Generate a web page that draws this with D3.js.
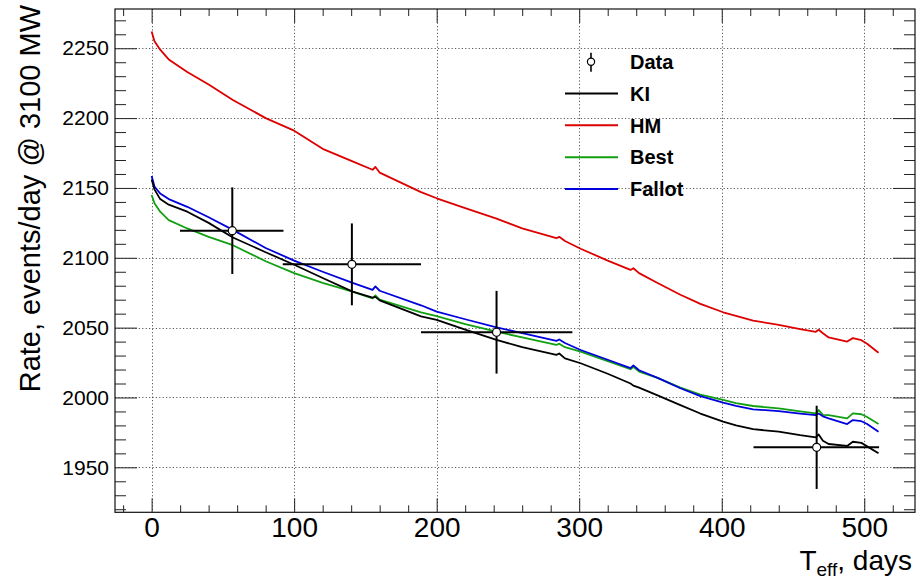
<!DOCTYPE html>
<html>
<head>
<meta charset="utf-8">
<script src="https://cdn.jsdelivr.net/npm/d3@7"></script>
<style>
  body { margin: 0; background: #fff; }
  svg { display: block; }
  text { font-family: "Liberation Sans", Arial, Helvetica, sans-serif; fill: #000; }
</style>
</head>
<body>
<svg id="chart" width="919" height="579"></svg>
<script>
// Effective time (days) at which the model curves are sampled
const days = [0, 2, 6, 12, 25, 40, 57, 80, 100, 120, 141, 155, 157, 160, 189, 200, 220, 242, 260,
  284, 286, 290, 301, 320, 336, 338, 342, 355, 371, 385, 401, 410, 422, 440, 455, 466, 468, 471,
  475, 488, 492, 498, 502, 510];

// Predicted rates, events/day @ 3100 MW
const rateKI = [2156, 2149, 2142, 2138, 2133, 2125, 2114.5, 2104, 2095, 2085.5, 2075.8, 2071.5, 2072, 2069.5,
  2058, 2055.5, 2048.5, 2041.2, 2036, 2030.5, 2031.5, 2028, 2024.5, 2017, 2010, 2008.5, 2007, 2001.5,
  1994.5, 1988.5, 1982.7, 1980, 1977.3, 1975.5, 1973, 1971.5, 1973.5, 1969, 1966.7, 1965.3, 1968.3,
  1967.5, 1965, 1960];
const rateHM = [2262, 2255, 2249, 2242, 2233, 2224, 2213, 2200, 2191, 2178, 2169, 2163, 2165, 2161,
  2147, 2142.6, 2135.5, 2128, 2121, 2114, 2115, 2112, 2106.5, 2098, 2091.3, 2092.5, 2089, 2082,
  2073.5, 2067, 2061, 2058.5, 2055, 2052, 2049, 2047, 2048.5, 2046, 2043, 2040, 2042.5, 2041,
  2038.5, 2032];
const rateBest = [2145, 2139, 2133, 2127, 2121, 2115, 2109, 2097.5, 2089, 2082, 2075.8, 2071, 2073, 2070,
  2061, 2058.3, 2052.5, 2047.1, 2043, 2037.6, 2038.5, 2036, 2032.8, 2026, 2020.2, 2022, 2018.5, 2014,
  2007, 2002, 1998.2, 1996, 1993.9, 1992.2, 1990, 1988.6, 1991, 1987.5, 1987.4, 1985, 1988.6,
  1988, 1986, 1981];
const rateFallot = [2158.5, 2151, 2146, 2142, 2136.5, 2129, 2120, 2107, 2098, 2090, 2082, 2077, 2079.5, 2076.4,
  2066, 2061.5, 2056, 2050.2, 2046, 2040.5, 2041.5, 2039, 2034, 2027, 2021, 2023, 2019.5, 2014,
  2006.6, 2001, 1996.3, 1994, 1991.5, 1990.3, 1988.5, 1987.4, 1988.5, 1986.5, 1985, 1981, 1983.8,
  1983, 1981, 1975.5];

// Measured rates with their bins and uncertainties
const dataDay = [56.6, 140.5, 242, 466.6];
const dataDayLo = [19.9, 92, 189, 422.3];
const dataDayHi = [92.5, 189, 295.2, 510.4];
const dataRate = [2119.4, 2095.3, 2046.7, 1964.3];
const dataErr = [31, 29.3, 29.6, 29.8];

// Axis ticks
const xTicks = [0, 100, 200, 300, 400, 500];
const yTicks = [1950, 2000, 2050, 2100, 2150, 2200, 2250];

// Legend entries
const legendLabels = ["Data", "KI", "HM", "Best", "Fallot"];

const svg = d3.select("#chart");
const frame = { left: 115, right: 915, top: 9, bottom: 512.3 };

const x = d3.scaleLinear().domain([-25.7, 535.6]).range([frame.left, frame.right]);
const y = d3.scaleLinear().domain([1917.8, 2278.1]).range([frame.bottom, frame.top]);

const xMinor = d3.range(-20, 536, 20).filter(v => v % 100 !== 0);
const yMinor = d3.range(1920, 2278, 10).filter(v => v % 50 !== 0);

// Dotted grid at the major ticks
const grid = svg.append("g").attr("stroke", "#000").attr("stroke-opacity", 0.65)
  .attr("stroke-width", 1).attr("stroke-dasharray", "1.2,2.2");
grid.selectAll("line.gx").data(xTicks).join("line")
  .attr("x1", d => Math.round(x(d)) + 0.5).attr("x2", d => Math.round(x(d)) + 0.5)
  .attr("y1", frame.top).attr("y2", frame.bottom);
grid.selectAll("line.gy").data(yTicks).join("line")
  .attr("y1", d => Math.round(y(d)) + 0.5).attr("y2", d => Math.round(y(d)) + 0.5)
  .attr("x1", frame.left).attr("x2", frame.right);

// Axes with inward ticks on all four sides
function styleAxis(g) {
  g.select(".domain").remove();
  g.selectAll(".tick line").attr("stroke", "#222").attr("stroke-width", 1);
}
svg.append("g").attr("transform", `translate(0,${frame.bottom})`)
  .call(d3.axisBottom(x).tickValues(xTicks).tickSize(-14).tickPadding(5).tickFormat(d3.format("d")))
  .call(styleAxis)
  .call(g => g.selectAll("text").attr("font-size", 28).attr("dy", "0.72em")
    .style("font-family", '"Liberation Sans", Arial, sans-serif').attr("fill", "#000"));
svg.append("g").attr("transform", `translate(0,${frame.bottom})`)
  .call(d3.axisBottom(x).tickValues(xMinor).tickSize(-7).tickFormat("")).call(styleAxis);
svg.append("g").attr("transform", `translate(0,${frame.top})`)
  .call(d3.axisTop(x).tickValues(xTicks).tickSize(-14).tickFormat("")).call(styleAxis);
svg.append("g").attr("transform", `translate(0,${frame.top})`)
  .call(d3.axisTop(x).tickValues(xMinor).tickSize(-7).tickFormat("")).call(styleAxis);

svg.append("g").attr("transform", `translate(${frame.left},0)`)
  .call(d3.axisLeft(y).tickValues(yTicks).tickSize(-22).tickPadding(6).tickFormat(d3.format("d")))
  .call(styleAxis)
  .call(g => g.selectAll("text").attr("font-size", 21)
    .style("font-family", '"Liberation Sans", Arial, sans-serif').attr("fill", "#000"));
svg.append("g").attr("transform", `translate(${frame.left},0)`)
  .call(d3.axisLeft(y).tickValues(yMinor).tickSize(-11).tickFormat("")).call(styleAxis);
svg.append("g").attr("transform", `translate(${frame.right},0)`)
  .call(d3.axisRight(y).tickValues(yTicks).tickSize(-22).tickFormat("")).call(styleAxis);
svg.append("g").attr("transform", `translate(${frame.right},0)`)
  .call(d3.axisRight(y).tickValues(yMinor).tickSize(-11).tickFormat("")).call(styleAxis);

// Frame
svg.append("rect")
  .attr("x", frame.left).attr("y", frame.top)
  .attr("width", frame.right - frame.left).attr("height", frame.bottom - frame.top)
  .attr("fill", "none").attr("stroke", "#111").attr("stroke-width", 1.2);

// Model curves
const series = [
  { name: "HM", values: rateHM, color: "#dd0000" },
  { name: "Best", values: rateBest, color: "#11a011" },
  { name: "Fallot", values: rateFallot, color: "#0000dd" },
  { name: "KI", values: rateKI, color: "#000000" }
];
const line = d3.line().x(d => x(d[0])).y(d => y(d[1]));
svg.append("g").selectAll("path").data(series).join("path")
  .attr("d", s => line(days.map((d, i) => [d, s.values[i]])))
  .attr("fill", "none").attr("stroke", s => s.color).attr("stroke-width", 1.8)
  .attr("stroke-linejoin", "round");

// Data points with error bars
const pts = svg.append("g").selectAll("g").data(dataDay.map((d, i) => i)).join("g");
pts.append("line")
  .attr("x1", i => x(dataDayLo[i])).attr("x2", i => x(dataDayHi[i]))
  .attr("y1", i => y(dataRate[i])).attr("y2", i => y(dataRate[i]))
  .attr("stroke", "#000").attr("stroke-width", 2);
pts.append("line")
  .attr("x1", i => x(dataDay[i])).attr("x2", i => x(dataDay[i]))
  .attr("y1", i => y(dataRate[i] - dataErr[i])).attr("y2", i => y(dataRate[i] + dataErr[i]))
  .attr("stroke", "#000").attr("stroke-width", 2);
pts.append("circle")
  .attr("cx", i => x(dataDay[i])).attr("cy", i => y(dataRate[i])).attr("r", 4)
  .attr("fill", "#fff").attr("stroke", "#000").attr("stroke-width", 1.2);

// Legend
const legendRowY = d3.scalePoint().domain(legendLabels).range([61.7, 189]);
const legendColors = { KI: "#000000", HM: "#dd0000", Best: "#11a011", Fallot: "#0000dd" };
const legend = svg.append("g");
legendLabels.forEach(lbl => {
  const cy = legendRowY(lbl);
  if (lbl === "Data") {
    legend.append("line").attr("x1", 591).attr("x2", 591).attr("y1", cy - 9).attr("y2", cy + 10)
      .attr("stroke", "#000").attr("stroke-width", 1.6);
    legend.append("circle").attr("cx", 591).attr("cy", cy).attr("r", 3.6)
      .attr("fill", "#fff").attr("stroke", "#000").attr("stroke-width", 1.2);
  } else {
    legend.append("line").attr("x1", 565).attr("x2", 618).attr("y1", cy).attr("y2", cy)
      .attr("stroke", legendColors[lbl]).attr("stroke-width", 2);
  }
  legend.append("text").attr("x", 630).attr("y", cy + 7.2)
    .attr("font-size", 20).attr("font-weight", "bold").text(lbl);
});

// Axis titles
const xt = svg.append("text").attr("x", 912).attr("y", 570)
  .attr("text-anchor", "end").attr("font-size", 28);
xt.append("tspan").text("T");
xt.append("tspan").attr("font-size", 19).attr("dy", 6).text("eff");
xt.append("tspan").attr("dy", -6).text(", days");

svg.append("text")
  .attr("transform", "translate(40,5) rotate(-90)")
  .attr("text-anchor", "end").attr("font-size", 29)
  .text("Rate, events/day @ 3100 MW");
</script>
</body>
</html>
